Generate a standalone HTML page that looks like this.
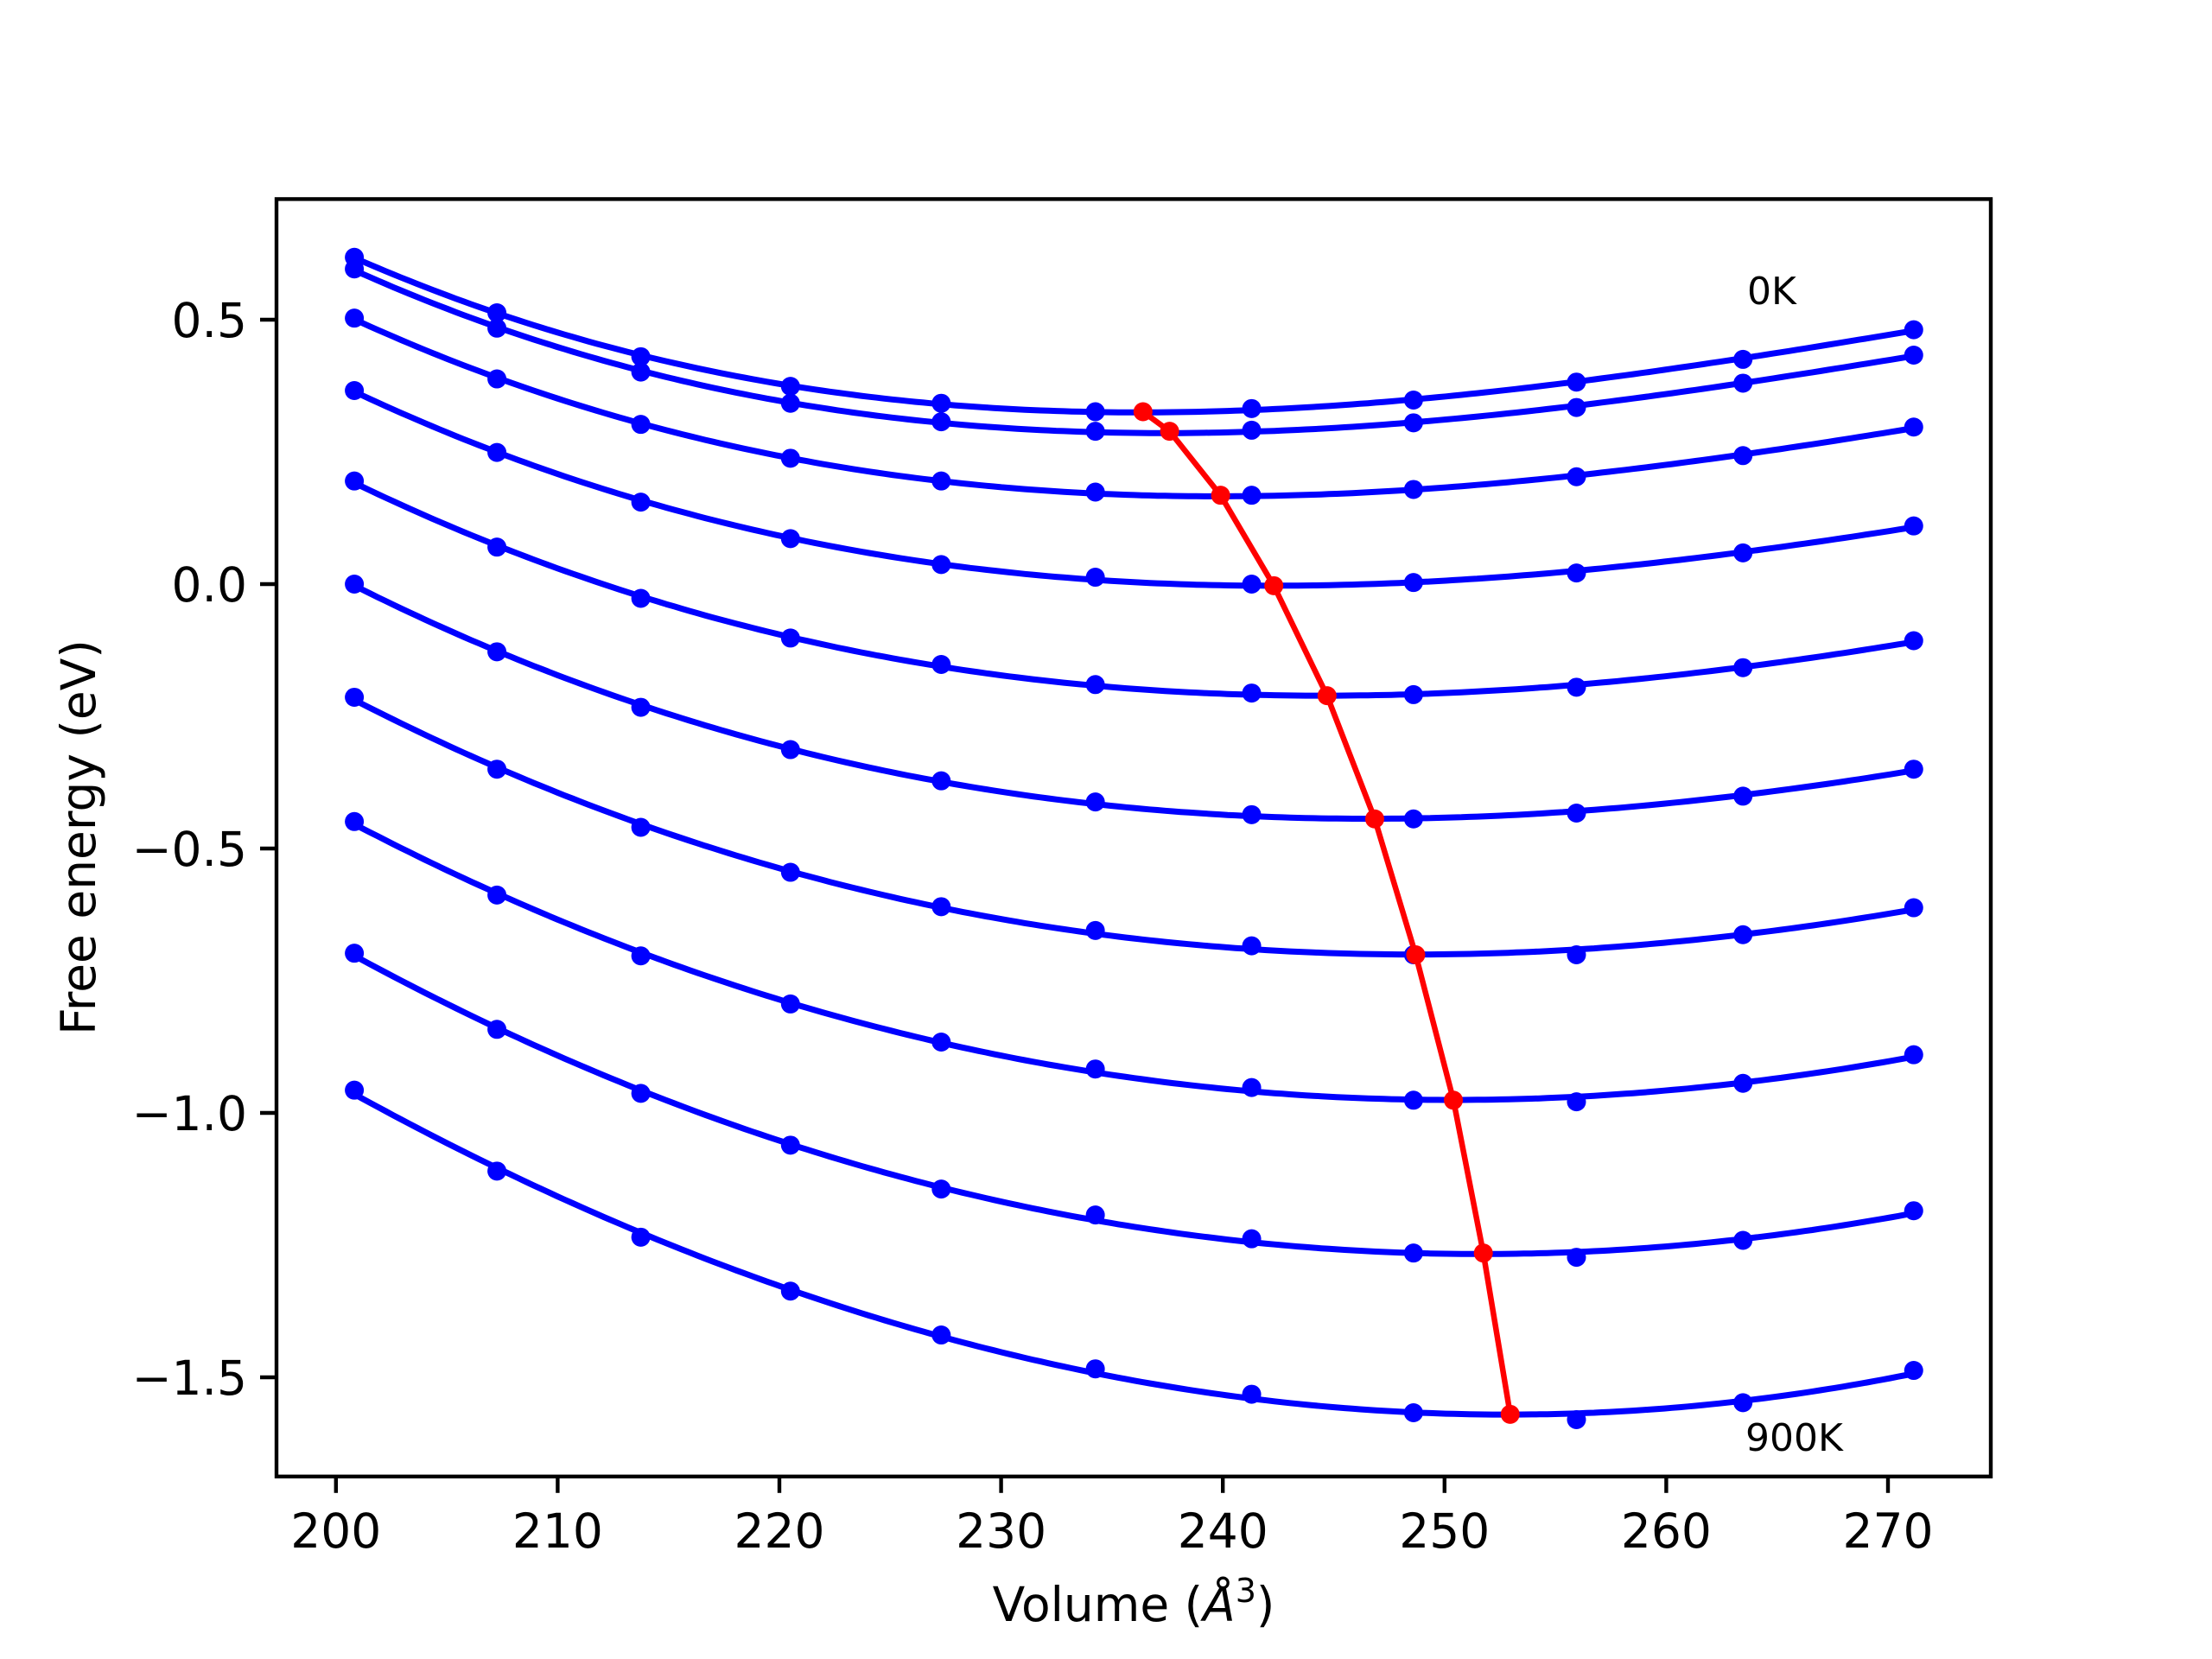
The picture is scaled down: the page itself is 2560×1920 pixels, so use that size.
<!DOCTYPE html>
<html><head><meta charset="utf-8"><style>
html,body{margin:0;padding:0;background:#fff}
svg{display:block}
text{font-family:"DejaVu Sans","Liberation Sans",sans-serif;fill:#000}
</style></head><body>
<svg id="chart" width="2560" height="1920" viewBox="0 0 2560 1920" xmlns="http://www.w3.org/2000/svg">
<rect width="2560" height="1920" fill="#fff"/>
<g id="plot"></g>
<g id="axes"></g>
</svg>
<script>
const volumes = [200.83, 207.26, 213.75, 220.5, 227.3, 234.25, 241.3, 248.6, 255.95, 263.46, 271.16];
const e0K   = [0.618, 0.513, 0.430, 0.374, 0.342, 0.326, 0.332, 0.348, 0.382, 0.425, 0.481];
const e100K = [0.596, 0.484, 0.401, 0.342, 0.307, 0.289, 0.291, 0.305, 0.334, 0.380, 0.433];
const e200K = [0.503, 0.388, 0.302, 0.238, 0.195, 0.174, 0.168, 0.179, 0.203, 0.243, 0.297];
const e300K = [0.366, 0.249, 0.155, 0.086, 0.037, 0.013, 0.000, 0.003, 0.021, 0.059, 0.110];
const e400K = [0.195, 0.070, -0.027, -0.102, -0.152, -0.190, -0.206, -0.209, -0.195, -0.158, -0.107];
const e500K = [0.000, -0.128, -0.233, -0.313, -0.372, -0.412, -0.436, -0.444, -0.433, -0.401, -0.350];
const e600K = [-0.214, -0.350, -0.460, -0.545, -0.610, -0.655, -0.684, -0.701, -0.701, -0.663, -0.612];
const e700K = [-0.449, -0.588, -0.703, -0.794, -0.866, -0.917, -0.952, -0.976, -0.979, -0.944, -0.890];
const e800K = [-0.698, -0.842, -0.963, -1.061, -1.144, -1.193, -1.238, -1.265, -1.273, -1.241, -1.185];
const e900K = [-0.957, -1.110, -1.235, -1.337, -1.420, -1.484, -1.532, -1.567, -1.580, -1.548, -1.487];
const minVolumes = [236.4, 237.6, 239.9, 242.3, 244.7, 246.85, 248.7, 250.4, 251.75, 252.96];
const minEnergies = [0.326, 0.289, 0.168, -0.003, -0.211, -0.444, -0.701, -0.976, -1.265, -1.570];
const xTicks = [200, 210, 220, 230, 240, 250, 260, 270];
const yTicks = [0.5, 0.0, -0.5, -1.0, -1.5];
const yTickLabels = ["0.5", "0.0", "\u22120.5", "\u22121.0", "\u22121.5"];

const series = [e0K,e100K,e200K,e300K,e400K,e500K,e600K,e700K,e800K,e900K];
const L=320, R=2304, T=230.4, B=1708.8;
function xs(v){ return 2185 + (v-270)*25.66; }
function ys(e){ return 676 - e*612; }
const NS="http://www.w3.org/2000/svg";
function mk(tag, attrs, parent){ const el=document.createElementNS(NS,tag); for(const k in attrs) el.setAttribute(k, attrs[k]); parent.appendChild(el); return el; }
const plot=document.getElementById('plot'), axes=document.getElementById('axes');

function fit(xv, yv){
  const xm = xv.reduce((a,b)=>a+b,0)/xv.length;
  const n=4, A=[...Array(n)].map(()=>Array(n+1).fill(0));
  for(let i=0;i<xv.length;i++){ const t=(xv[i]-xm)/10; const p=[1,t,t*t,t*t*t];
    for(let r=0;r<n;r++){ for(let c=0;c<n;c++) A[r][c]+=p[r]*p[c]; A[r][n]+=p[r]*yv[i]; } }
  for(let i=0;i<n;i++){ let mx=i; for(let r=i+1;r<n;r++) if(Math.abs(A[r][i])>Math.abs(A[mx][i])) mx=r;
    [A[i],A[mx]]=[A[mx],A[i]];
    for(let r=0;r<n;r++){ if(r===i) continue; const f=A[r][i]/A[i][i]; for(let c=i;c<=n;c++) A[r][c]-=f*A[i][c]; } }
  const co=A.map((row,i)=>row[n]/row[i]);
  return v=>{ const t=(v-xm)/10; return co[0]+co[1]*t+co[2]*t*t+co[3]*t*t*t; };
}

series.forEach((s, si)=>{
  const f=fit(volumes, s);
  let d='';
  const v0=volumes[0], v1=volumes[volumes.length-1];
  for(let k=0;k<=200;k++){ const v=v0+(v1-v0)*k/200; d+=(k?'L':'M')+xs(v).toFixed(1)+','+ys(f(v)).toFixed(1); }
  const p=mk('path',{d:d,fill:'none',stroke:'#0000ff','stroke-width':7,'stroke-linejoin':'round'},plot);
  
  
  s.forEach((e,i)=>{
    const c=mk('ellipse',{cx:xs(volumes[i]),cy:ys(e),rx:11,ry:11,fill:'#0000ff'},plot);
    
    
  });
});
let dr='';
minVolumes.forEach((v,i)=>{ dr+=(i?'L':'M')+xs(v).toFixed(1)+','+ys(minEnergies[i]).toFixed(1); });
const rl=mk('path',{d:dr,fill:'none',stroke:'#ff0000','stroke-width':6.5,'stroke-linejoin':'round'},plot);


minVolumes.forEach((v,i)=>{
  const c=mk('ellipse',{cx:xs(v),cy:ys(minEnergies[i]),rx:11,ry:11,fill:'#ff0000'},plot);
  
  
});

const fr=mk('rect',{x:L,y:T,width:R-L,height:B-T,fill:'none',stroke:'#000','stroke-width':4.4},axes);


xTicks.forEach(v=>{
  const x=xs(v);
  const t=mk('line',{x1:x,y1:B,x2:x,y2:B+19,stroke:'#000','stroke-width':4.4},axes);
  
  
  const tx=mk('text',{x:x,y:B+82,'text-anchor':'middle','font-size':55},axes);
  tx.textContent=String(v);
  
  
});
yTicks.forEach((v,i)=>{
  const y=ys(v);
  const t=mk('line',{x1:L-19,y1:y,x2:L,y2:y,stroke:'#000','stroke-width':4.4},axes);
  
  
  const tx=mk('text',{x:L-34,y:y+20,'text-anchor':'end','font-size':55},axes);
  tx.textContent=yTickLabels[i];
  
  
});
</script>
<svg style="position:absolute;left:0;top:0" width="2560" height="1920" viewBox="0 0 2560 1920" xmlns="http://www.w3.org/2000/svg">
<text x="1312" y="1876" text-anchor="middle" font-size="55">Volume (<tspan font-style="italic">Å</tspan><tspan font-size="38" dy="-22">3</tspan><tspan dy="22">)</tspan></text>
<text transform="translate(110,969) rotate(-90)" text-anchor="middle" font-size="55">Free energy (eV)</text>
<text x="2022" y="352" font-size="44">0K</text>
<text x="2020" y="1679" font-size="44">900K</text>
</svg>
</body></html>
